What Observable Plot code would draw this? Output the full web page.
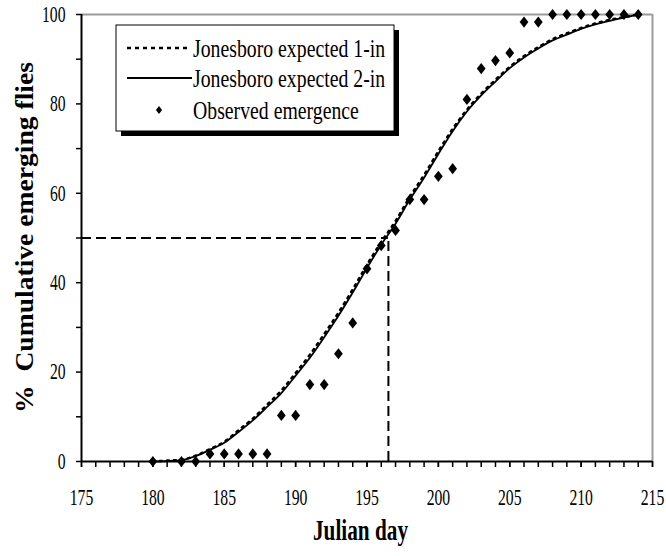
<!DOCTYPE html>
<html>
<head>
<meta charset="utf-8">
<script src="https://cdn.jsdelivr.net/npm/d3@7"></script>
<script src="https://cdn.jsdelivr.net/npm/@observablehq/plot@0.6"></script>
<style>
  html, body { margin: 0; padding: 0; background: #fff; }
  #chart svg { display: block; }
</style>
</head>
<body>
<div id="chart"></div>
<script>
// Julian days for the expected (model) emergence curves
const expectedDays = [180, 181, 182, 183, 184, 185, 186, 187, 188, 189, 190, 191,
  192, 193, 194, 195, 196, 197, 198, 199, 200, 201, 202, 203, 204, 205, 206, 207,
  208, 209, 210, 211, 212, 213, 214];

// Jonesboro expected cumulative emergence (%), 1-in depth
const expected1in = [0, 0.2, 0.4, 1.3, 2.8, 4.4, 7.0, 9.6, 12.7, 15.9, 19.8, 23.9,
  28.5, 33.3, 38.5, 44.0, 49.1, 53.8, 59.2, 64.1, 69.4, 74.4, 78.7, 82.3, 85.4,
  88.3, 90.7, 92.7, 94.5, 95.8, 97.0, 98.0, 98.8, 99.4, 100];

// Jonesboro expected cumulative emergence (%), 2-in depth
const expected2in = [0, 0.1, 0.3, 1.2, 2.6, 4.2, 6.6, 9.2, 12.2, 15.3, 19.2, 23.2,
  27.8, 32.6, 37.8, 43.3, 48.5, 53.2, 58.6, 63.5, 68.8, 73.9, 78.3, 81.9, 85.0,
  88.0, 90.4, 92.4, 94.2, 95.5, 96.8, 97.8, 98.6, 99.3, 100];

// Observed cumulative emergence (%)
const observedDays = [180, 182, 183, 184, 185, 186, 187, 188, 189, 190, 191, 192,
  193, 194, 195, 196, 197, 198, 199, 200, 201, 202, 203, 204, 205, 206, 207, 208,
  209, 210, 211, 212, 213, 214];
const observedPct = [0, 0, 0, 1.7, 1.7, 1.7, 1.7, 1.7, 10.3, 10.3, 17.2, 17.2,
  24.1, 31.0, 43.1, 48.3, 51.7, 58.6, 58.6, 63.8, 65.5, 81.0, 87.9, 89.7, 91.4,
  98.3, 98.3, 100, 100, 100, 100, 100, 100, 100];

// 50% emergence reference
const medianDay = 196.5;
const medianPct = 50;

// Axis ticks
const xMajorTicks = [175, 180, 185, 190, 195, 200, 205, 210, 215];
const xMinorTicks = [175, 176, 177, 178, 179, 180, 181, 182, 183, 184, 185, 186,
  187, 188, 189, 190, 191, 192, 193, 194, 195, 196, 197, 198, 199, 200, 201, 202,
  203, 204, 205, 206, 207, 208, 209, 210, 211, 212, 213, 214, 215];
const yMajorTicks = [0, 20, 40, 60, 80, 100];
const yMinorTicks = [10, 30, 50, 70, 90];

const legendLabels = ["Jonesboro expected 1-in", "Jonesboro expected 2-in", "Observed emergence"];

const curve1 = expectedDays.map((d, i) => ({day: d, pct: expected1in[i]}));
const curve2 = expectedDays.map((d, i) => ({day: d, pct: expected2in[i]}));
const observed = observedDays.map((d, i) => ({day: d, pct: observedPct[i]}));

// Slightly narrow diamond marker
const narrowDiamond = {
  draw(context, size) {
    const s = Math.sqrt(size / Math.PI);
    const w = s * 0.78;
    context.moveTo(0, -s);
    context.lineTo(w, 0);
    context.lineTo(0, s);
    context.lineTo(-w, 0);
    context.closePath();
  }
};

const serif = "'Liberation Serif', 'Times New Roman', serif";

const chart = Plot.plot({
  width: 666,
  height: 556,
  marginLeft: 81,
  marginRight: 14,
  marginTop: 14,
  marginBottom: 95,
  style: {fontFamily: serif, fontSize: "22px", background: "#fff", color: "#000"},
  x: {domain: [175, 215]},
  y: {domain: [0, 100]},
  marks: [
    // plot border (top and right)
    Plot.ruleY([100], {stroke: "#9a9a9a", strokeWidth: 2}),
    Plot.ruleX([215], {stroke: "#9a9a9a", strokeWidth: 2}),
    // ticks
    Plot.axisX({ticks: xMinorTicks, tickSize: 6, tickFormat: () => "", label: null, strokeWidth: 1.5}),
    Plot.axisX({ticks: xMajorTicks, tickSize: 6, tickPadding: 21, label: null, strokeWidth: 1.5}),
    Plot.axisY({ticks: yMinorTicks, tickSize: 5, tickFormat: () => "", label: null, strokeWidth: 1.5}),
    Plot.axisY({ticks: yMajorTicks, tickSize: 5, tickPadding: 11, label: null, strokeWidth: 1.5}),
    // 50% emergence guides
    Plot.ruleY([medianPct], {x1: 175, x2: medianDay, stroke: "#000", strokeWidth: 2, strokeDasharray: "10,5"}),
    Plot.ruleX([medianDay], {y1: 0, y2: medianPct, stroke: "#000", strokeWidth: 2, strokeDasharray: "10,5"}),
    // expected curves
    Plot.line(curve1, {x: "day", y: "pct", stroke: "#000", strokeWidth: 2.5, strokeDasharray: "2,5", curve: "monotone-x"}),
    Plot.line(curve2, {x: "day", y: "pct", stroke: "#000", strokeWidth: 1.8, curve: "monotone-x"}),
    // observed
    Plot.dot(observed, {x: "day", y: "pct", symbol: narrowDiamond, r: 5.6, fill: "#000", stroke: null}),
    // axis lines
    Plot.ruleX([175], {stroke: "#000", strokeWidth: 2}),
    Plot.ruleY([0], {stroke: "#000", strokeWidth: 2})
  ]
});

document.getElementById("chart").append(chart);

const svg = d3.select(chart);

// larger, condensed serif tick labels
svg.selectAll("g[aria-label$='tick label'] text").each(function () {
  this.style.fontSize = "23px";
  this.style.fontFamily = serif;
  const w = this.getComputedTextLength();
  if (w > 0) {
    this.setAttribute("textLength", (w * 0.68).toFixed(1));
    this.setAttribute("lengthAdjust", "spacingAndGlyphs");
  }
});

// axis titles
svg.append("text")
  .attr("x", 360.5)
  .attr("y", 540)
  .attr("text-anchor", "middle")
  .attr("font-family", serif)
  .attr("font-weight", "bold")
  .attr("font-size", 29)
  .attr("textLength", 95)
  .attr("lengthAdjust", "spacingAndGlyphs")
  .text("Julian day");

svg.append("text")
  .attr("transform", "translate(33,237.5) rotate(-90)")
  .attr("text-anchor", "middle")
  .attr("font-family", serif)
  .attr("font-weight", "bold")
  .attr("font-size", 26)
  .attr("textLength", 351)
  .attr("lengthAdjust", "spacingAndGlyphs")
  .text("%  Cumulative emerging flies");

// legend box with drop shadow
const lg = svg.append("g").attr("aria-label", "legend");
lg.append("rect").attr("x", 121).attr("y", 30).attr("width", 278).attr("height", 106).attr("fill", "#000");
lg.append("rect").attr("x", 116).attr("y", 25).attr("width", 278).attr("height", 106)
  .attr("fill", "#fff").attr("stroke", "#000").attr("stroke-width", 1);

const rowY = [48, 78, 110];
lg.append("line").attr("x1", 127).attr("x2", 190).attr("y1", rowY[0]).attr("y2", rowY[0])
  .attr("stroke", "#000").attr("stroke-width", 2.5).attr("stroke-dasharray", "4,4");
lg.append("line").attr("x1", 127).attr("x2", 192).attr("y1", rowY[1]).attr("y2", rowY[1])
  .attr("stroke", "#000").attr("stroke-width", 1.8);
lg.append("path")
  .attr("transform", `translate(159,${rowY[2]})`)
  .attr("d", d3.symbol(narrowDiamond, Math.PI * 4 * 4)())
  .attr("fill", "#000");

legendLabels.forEach((label, i) => {
  const t = lg.append("text")
    .attr("x", 193)
    .attr("y", rowY[i])
    .attr("dy", "0.35em")
    .attr("text-anchor", "start")
    .attr("font-family", serif)
    .attr("font-size", 26)
    .text(label);
  const w = t.node().getComputedTextLength();
  t.attr("textLength", (w * 0.76).toFixed(1)).attr("lengthAdjust", "spacingAndGlyphs");
});
</script>
</body>
</html>
